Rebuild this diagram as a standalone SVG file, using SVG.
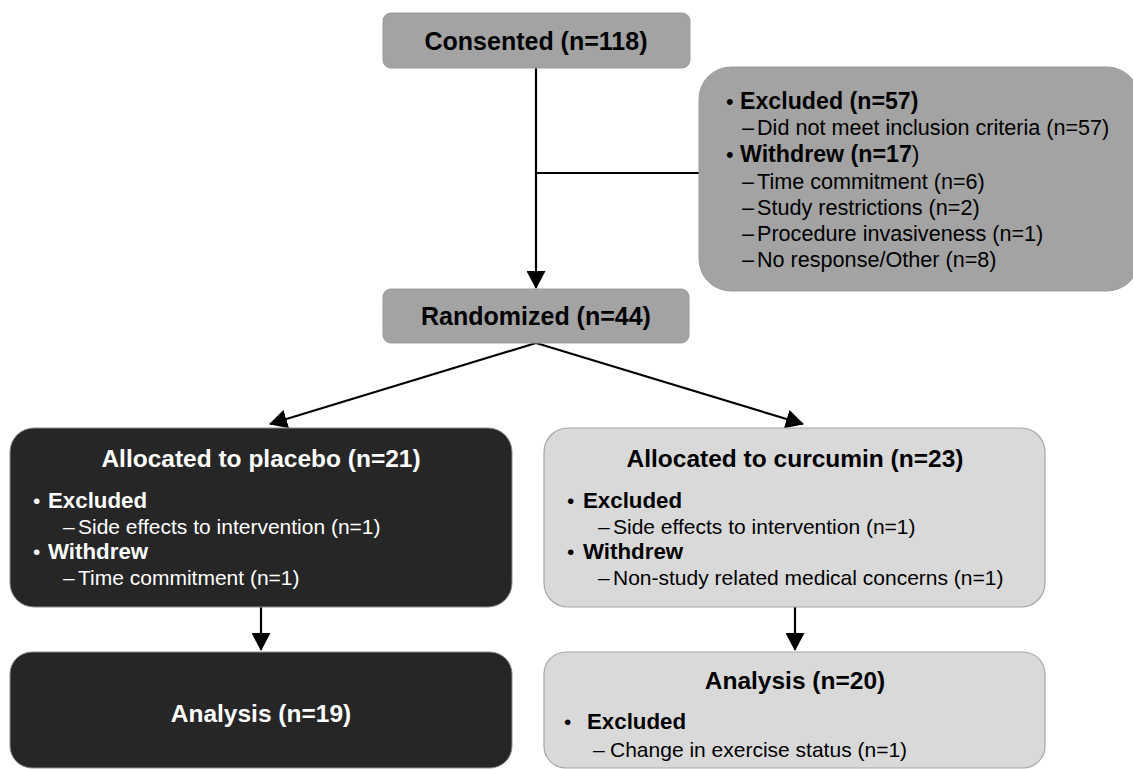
<svg xmlns="http://www.w3.org/2000/svg" width="1133" height="769" viewBox="0 0 1133 769">
<defs>
<marker id="ah" markerUnits="userSpaceOnUse" markerWidth="19" markerHeight="19" refX="17" refY="9.5" orient="auto" viewBox="0 0 19 19">
<path d="M0,0 L18,9.5 L0,19 z" fill="#000"/>
</marker>
<style>
.mid{fill:#a3a3a3;stroke:#9a9a9a;stroke-width:1}
.dark{fill:#262626;stroke:#8c8c8c;stroke-width:1}
.light{fill:#d9d9d9;stroke:#a6a6a6;stroke-width:1.2}
text{font-family:"Liberation Sans",Arial,sans-serif}
.t{font-weight:bold;font-size:24.5px;text-anchor:middle}
.b{font-weight:bold;font-size:22.3px}
.s{font-size:21px}
.bx{font-weight:bold;font-size:23.2px}
.sx{font-size:21.6px}
.w{fill:#fff}
.k{fill:#000}
.conn line{stroke:#000;stroke-width:2.2;fill:none}
</style>
</defs>
<g class="conn" id="connectors">
<line x1="536" y1="68" x2="536" y2="288" marker-end="url(#ah)"/>
<line x1="536" y1="173" x2="700" y2="173"/>
<line x1="536" y1="343" x2="270" y2="424" marker-end="url(#ah)"/>
<line x1="536" y1="343" x2="803" y2="424" marker-end="url(#ah)"/>
<line x1="261" y1="607" x2="261" y2="650" marker-end="url(#ah)"/>
<line x1="795" y1="607" x2="795" y2="650" marker-end="url(#ah)"/>
</g>
<g id="consented">
<rect class="mid" x="383" y="13" width="307" height="55" rx="8"/>
<text class="t k" x="536" y="50" style="font-size:25px">Consented (n=118)</text>
</g>
<g id="excluded">
<rect class="mid" x="699" y="67" width="440" height="224" rx="32"/>
<text class="sx k" x="726" y="109">•</text>
<text class="bx k" x="740" y="109">Excluded (n=57)</text>
<text class="sx k" x="742" y="135">–</text>
<text class="sx k" x="757" y="135">Did not meet inclusion criteria (n=57)</text>
<text class="sx k" x="726" y="162">•</text>
<text class="bx k" x="740" y="162">Withdrew (n=17<tspan style="font-weight:normal">)</tspan></text>
<text class="sx k" x="742" y="189">–</text>
<text class="sx k" x="757" y="189">Time commitment (n=6)</text>
<text class="sx k" x="742" y="215">–</text>
<text class="sx k" x="757" y="215">Study restrictions (n=2)</text>
<text class="sx k" x="742" y="241">–</text>
<text class="sx k" x="757" y="241">Procedure invasiveness (n=1)</text>
<text class="sx k" x="742" y="267">–</text>
<text class="sx k" x="757" y="267">No response/Other (n=8)</text>
</g>
<g id="randomized">
<rect class="mid" x="383" y="289" width="306" height="54" rx="8"/>
<text class="t k" x="536" y="325" style="font-size:25px">Randomized (n=44)</text>
</g>
<g id="placebo">
<rect class="dark" x="10" y="428" width="502" height="179" rx="24"/>
<text class="t w" x="261" y="467">Allocated to placebo (n=21)</text>
<text class="s w" x="33" y="508">•</text>
<text class="b w" x="48" y="508">Excluded</text>
<text class="s w" x="63" y="534">–</text>
<text class="s w" x="78" y="534">Side effects to intervention (n=1)</text>
<text class="s w" x="33" y="559">•</text>
<text class="b w" x="48" y="559">Withdrew</text>
<text class="s w" x="63" y="585">–</text>
<text class="s w" x="78" y="585">Time commitment (n=1)</text>
</g>
<g id="curcumin">
<rect class="light" x="544" y="428" width="501" height="179" rx="24"/>
<text class="t k" x="795" y="467">Allocated to curcumin (n=23)</text>
<text class="s k" x="567" y="508">•</text>
<text class="b k" x="583" y="508">Excluded</text>
<text class="s k" x="598" y="534">–</text>
<text class="s k" x="613" y="534">Side effects to intervention (n=1)</text>
<text class="s k" x="567" y="559">•</text>
<text class="b k" x="583" y="559">Withdrew</text>
<text class="s k" x="598" y="585">–</text>
<text class="s k" x="613" y="585">Non-study related medical concerns (n=1)</text>
</g>
<g id="analysis-placebo">
<rect class="dark" x="10" y="652" width="502" height="116" rx="22"/>
<text class="t w" x="261" y="722">Analysis (n=19)</text>
</g>
<g id="analysis-curcumin">
<rect class="light" x="544" y="652" width="501" height="116" rx="22"/>
<text class="t k" x="795" y="689">Analysis (n=20)</text>
<text class="s k" x="564" y="729">•</text>
<text class="b k" x="587" y="729">Excluded</text>
<text class="s k" x="593" y="757">–</text>
<text class="s k" x="610" y="757">Change in exercise status (n=1)</text>
</g>
</svg>
